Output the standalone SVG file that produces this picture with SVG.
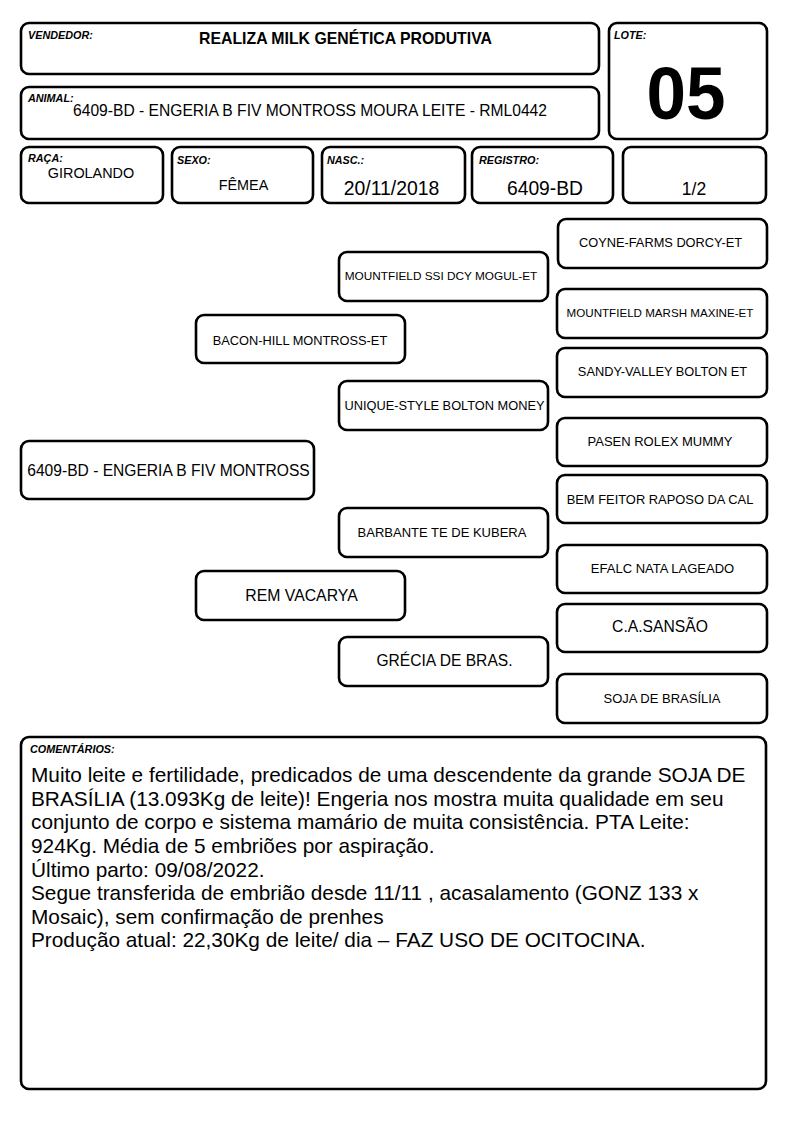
<svg xmlns="http://www.w3.org/2000/svg" width="794" height="1123" viewBox="0 0 794 1123">
<style>
.box{fill:#fff;stroke:#000;stroke-width:2.6}
.lbl{font-family:"Liberation Sans",Arial,sans-serif;font-size:10.8px;font-weight:bold;font-style:italic;fill:#000}
.t{font-family:"Liberation Sans",Arial,sans-serif;fill:#000;text-anchor:middle}
.s13{font-size:13px}
.s16{font-size:15.7px}
.cm{font-family:"Liberation Sans",Arial,sans-serif;font-size:20.8px;fill:#000}
</style>
<rect width="794" height="1123" fill="#fff"/>
<g id="vendedor">
<rect class="box" x="21" y="23" width="578" height="51" rx="8"/>
<text class="lbl" x="28" y="39">VENDEDOR:</text>
<text class="t" x="345.5" y="44" style="font-size:15.7px;font-weight:bold" textLength="293" lengthAdjust="spacingAndGlyphs">REALIZA MILK GENÉTICA PRODUTIVA</text>
</g>
<g id="animal">
<rect class="box" x="21" y="87" width="578" height="52" rx="8"/>
<text class="lbl" x="28" y="102">ANIMAL:</text>
<text class="t" x="310" y="116" style="font-size:15.6px" textLength="474" lengthAdjust="spacingAndGlyphs">6409-BD - ENGERIA B FIV MONTROSS MOURA LEITE - RML0442</text>
</g>
<g id="lote">
<rect class="box" x="609" y="23" width="158" height="116" rx="8"/>
<text class="lbl" x="614" y="39">LOTE:</text>
<text class="t" x="686" y="119" style="font-size:74px;font-weight:bold" textLength="79" lengthAdjust="spacingAndGlyphs">05</text>
</g>
<g id="raca">
<rect class="box" x="21" y="147" width="142" height="56" rx="8"/>
<text class="lbl" x="28" y="162">RAÇA:</text>
<text class="t" x="91" y="178" style="font-size:14.4px">GIROLANDO</text>
</g>
<g id="sexo">
<rect class="box" x="172" y="147" width="141" height="56" rx="8"/>
<text class="lbl" x="177" y="164">SEXO:</text>
<text class="t" x="243.5" y="190" style="font-size:14.4px">FÊMEA</text>
</g>
<g id="nasc">
<rect class="box" x="322" y="147" width="143" height="56" rx="8"/>
<text class="lbl" x="327" y="164">NASC.:</text>
<text class="t" x="391.5" y="195" style="font-size:19.4px">20/11/2018</text>
</g>
<g id="registro">
<rect class="box" x="472" y="147" width="141" height="56" rx="8"/>
<text class="lbl" x="479" y="164">REGISTRO:</text>
<text class="t" x="545" y="195" style="font-size:19.3px">6409-BD</text>
</g>
<g id="pagina">
<rect class="box" x="623" y="147" width="143" height="56" rx="8"/>
<text class="t" x="694" y="195" style="font-size:17.5px">1/2</text>
</g>
<g id="connectors"></g>
<g id="p-animal">
<rect class="box" x="21" y="441" width="293" height="58" rx="8"/>
<text class="t" x="168.5" y="476" style="font-size:15.6px">6409-BD - ENGERIA B FIV MONTROSS</text>
</g>
<g id="p-pai">
<rect class="box" x="196" y="315" width="209" height="48" rx="8"/>
<text class="t s13" x="300" y="345" style="font-size:12.8px">BACON-HILL MONTROSS-ET</text>
</g>
<g id="p-mae">
<rect class="box" x="196" y="571" width="209" height="49" rx="8"/>
<text class="t" x="301.5" y="601" style="font-size:15.8px">REM VACARYA</text>
</g>
<g id="p-avo-pp">
<rect class="box" x="339" y="252" width="209" height="49" rx="8"/>
<text class="t" x="441" y="280" style="font-size:11.8px">MOUNTFIELD SSI DCY MOGUL-ET</text>
</g>
<g id="p-avo-pm">
<rect class="box" x="339" y="381" width="209" height="49" rx="8"/>
<text class="t" x="444.5" y="410" style="font-size:12.8px">UNIQUE-STYLE BOLTON MONEY</text>
</g>
<g id="p-avo-mp">
<rect class="box" x="339" y="508" width="209" height="49" rx="8"/>
<text class="t s13" x="442" y="537">BARBANTE TE DE KUBERA</text>
</g>
<g id="p-avo-mm">
<rect class="box" x="339" y="637" width="209" height="49" rx="8"/>
<text class="t" x="444.5" y="666" style="font-size:15.6px">GRÉCIA DE BRAS.</text>
</g>
<g id="p-bis-1">
<rect class="box" x="558" y="219" width="209" height="49" rx="8"/>
<text class="t s13" x="660.5" y="247" style="font-size:12.8px">COYNE-FARMS DORCY-ET</text>
</g>
<g id="p-bis-2">
<rect class="box" x="557" y="289" width="210" height="49" rx="8"/>
<text class="t" x="660" y="317" style="font-size:11.6px">MOUNTFIELD MARSH MAXINE-ET</text>
</g>
<g id="p-bis-3">
<rect class="box" x="557" y="348" width="210" height="49" rx="8"/>
<text class="t" x="662.5" y="376" style="font-size:12.8px">SANDY-VALLEY BOLTON ET</text>
</g>
<g id="p-bis-4">
<rect class="box" x="557" y="418" width="210" height="48" rx="8"/>
<text class="t s13" x="660" y="446">PASEN ROLEX MUMMY</text>
</g>
<g id="p-bis-5">
<rect class="box" x="557" y="475" width="210" height="48" rx="8"/>
<text class="t s13" x="660" y="504" style="font-size:12.9px">BEM FEITOR RAPOSO DA CAL</text>
</g>
<g id="p-bis-6">
<rect class="box" x="557" y="545" width="210" height="48" rx="8"/>
<text class="t s13" x="662.5" y="573">EFALC NATA LAGEADO</text>
</g>
<g id="p-bis-7">
<rect class="box" x="557" y="604" width="210" height="48" rx="8"/>
<text class="t s16" x="660" y="632">C.A.SANSÃO</text>
</g>
<g id="p-bis-8">
<rect class="box" x="557" y="674" width="210" height="49" rx="8"/>
<text class="t s13" x="662" y="703">SOJA DE BRASÍLIA</text>
</g>
<g id="comentarios">
<rect class="box" x="21" y="737" width="745" height="352" rx="8"/>
<text class="lbl" x="30" y="753">COMENTÁRIOS:</text>
<text class="cm">
<tspan x="31" y="782">Muito leite e fertilidade, predicados de uma descendente da grande SOJA DE</tspan>
<tspan x="31" y="806">BRASÍLIA (13.093Kg de leite)! Engeria nos mostra muita qualidade em seu</tspan>
<tspan x="31" y="829">conjunto de corpo e sistema mamário de muita consistência. PTA Leite:</tspan>
<tspan x="31" y="853">924Kg. Média de 5 embriões por aspiração.</tspan>
<tspan x="31" y="877">Último parto: 09/08/2022.</tspan>
<tspan x="31" y="900">Segue transferida de embrião desde 11/11 , acasalamento (GONZ 133 x</tspan>
<tspan x="31" y="924">Mosaic), sem confirmação de prenhes</tspan>
<tspan x="31" y="947">Produção atual: 22,30Kg de leite/ dia – FAZ USO DE OCITOCINA.</tspan>
</text>
</g>
</svg>
